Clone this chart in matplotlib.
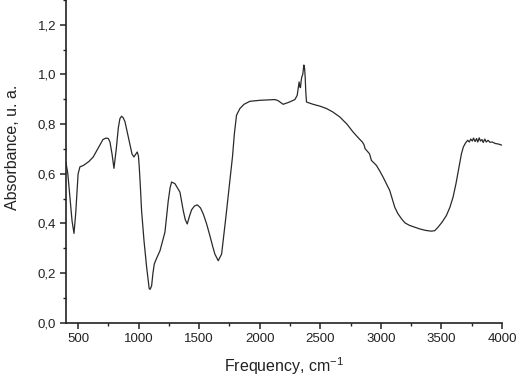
import matplotlib
matplotlib.use("Agg")
import matplotlib.pyplot as plt
from matplotlib.ticker import MultipleLocator, FuncFormatter

plt.rcParams['font.family'] = ['Liberation Sans', 'DejaVu Sans']

freq = [400, 415, 430, 450, 466, 480, 500, 515, 545, 590, 625, 675, 705, 730, 750,
        763, 780, 796, 815, 832, 845, 859, 872, 887, 905, 928, 945, 961, 975, 988,
        998, 1005, 1015, 1024, 1044, 1066, 1080, 1087, 1095, 1107, 1118, 1129, 1150,
        1176, 1217, 1244, 1260, 1272, 1300, 1341, 1368, 1385, 1401, 1420, 1437, 1460,
        1484, 1510, 1533, 1560, 1588, 1610, 1629, 1657, 1685, 1720, 1753, 1775, 1790,
        1808, 1836, 1870, 1918, 2001, 2080, 2124, 2150, 2193, 2240, 2290, 2309, 2318,
        2325, 2331, 2336, 2342, 2347, 2355, 2364, 2370, 2375, 2380, 2386, 2440, 2500,
        2550, 2600, 2661, 2720, 2771, 2823, 2847, 2860, 2870, 2890, 2906, 2922, 2940,
        2963, 2990, 3018, 3045, 3073, 3115, 3140, 3170, 3200, 3238, 3280, 3321, 3370,
        3417, 3445, 3472, 3505, 3541, 3570, 3596, 3620, 3645, 3665, 3681, 3700, 3717,
        3730, 3742, 3755, 3765, 3778, 3790, 3800, 3812, 3822, 3835, 3845, 3858, 3870,
        3885, 3900, 3920, 3945, 3970, 3995]
absorb = [0.645, 0.60, 0.52, 0.41, 0.36, 0.44, 0.60, 0.628, 0.634, 0.650, 0.668, 0.712, 0.738, 0.744, 0.742,
          0.728, 0.680, 0.622, 0.700, 0.785, 0.822, 0.832, 0.826, 0.810, 0.770, 0.718, 0.680, 0.668, 0.678, 0.688,
          0.672, 0.627, 0.540, 0.452, 0.331, 0.223, 0.165, 0.137, 0.135, 0.149, 0.200, 0.237, 0.262,
          0.290, 0.365, 0.490, 0.545, 0.567, 0.560, 0.526, 0.452, 0.415, 0.398, 0.430, 0.455, 0.470,
          0.475, 0.463, 0.439, 0.400, 0.351, 0.310, 0.277, 0.250, 0.277, 0.425, 0.573, 0.670, 0.760,
          0.836, 0.863, 0.880, 0.892, 0.896, 0.898, 0.899, 0.895, 0.880, 0.888, 0.899, 0.916, 0.945,
          0.970, 0.950, 0.947, 0.975, 0.990, 1.000, 1.038, 1.025, 0.990, 0.930, 0.889, 0.880, 0.872,
          0.863, 0.850, 0.829, 0.800, 0.768, 0.740, 0.728, 0.718, 0.701, 0.690, 0.681, 0.654, 0.645,
          0.634, 0.612, 0.587, 0.560, 0.533, 0.465, 0.440, 0.419, 0.402, 0.392, 0.385, 0.378, 0.372,
          0.369, 0.371, 0.385, 0.405, 0.432, 0.465, 0.506, 0.560, 0.627, 0.680, 0.708, 0.725, 0.735,
          0.728, 0.740, 0.732, 0.744, 0.730, 0.742, 0.728, 0.745, 0.732, 0.738, 0.726, 0.740, 0.728,
          0.735, 0.727, 0.728, 0.722, 0.720, 0.716]

fig = plt.figure(figsize=(5.23, 3.82), dpi=100)
ax = fig.add_axes([0.1262, 0.155, 0.8336, 0.845])
ax.plot(freq, absorb, color='#2a2a2a', lw=0.9)

ax.set_xlim(400, 4000)
ax.set_ylim(0, 1.3)
ax.xaxis.set_major_locator(MultipleLocator(500))
ax.xaxis.set_minor_locator(MultipleLocator(250))
ax.yaxis.set_major_locator(MultipleLocator(0.2))
ax.yaxis.set_minor_locator(MultipleLocator(0.1))
ax.yaxis.set_major_formatter(FuncFormatter(lambda v, p: f"{v:.1f}".replace('.', ',')))
ax.xaxis.set_major_formatter(FuncFormatter(lambda v, p: "" if v < 450 else f"{v:.0f}"))

for s in ['top', 'right']:
    ax.spines[s].set_visible(False)
for s in ['left', 'bottom']:
    ax.spines[s].set_linewidth(1.2)
    ax.spines[s].set_color('#222222')

ax.tick_params(which='major', direction='out', length=4, width=1.1, labelsize=9.5, colors='#222222', pad=3)
ax.tick_params(which='minor', direction='out', length=2.5, width=1.0, colors='#222222')

ax.set_xlabel("Frequency, cm$^{\\mathregular{-1}}$", fontsize=11.5, color='#222222', labelpad=8)
ax.set_ylabel("Absorbance, u. a.", fontsize=11.5, color='#222222')
ax.yaxis.set_label_coords(-0.105, 0.545)

fig.savefig("out.png", dpi=100)
